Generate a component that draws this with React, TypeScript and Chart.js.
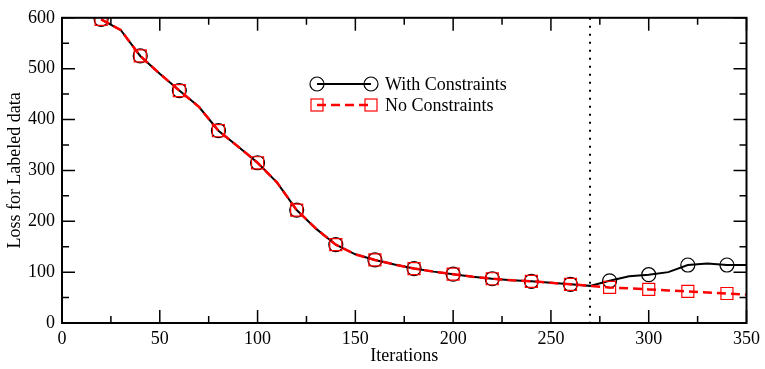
import React, { useEffect, useRef } from "react";
import { Chart, registerables } from "chart.js";

Chart.register(...registerables);

const iterations = [20, 30, 40, 50, 60, 70, 80, 90, 100, 110, 120, 130, 140, 150, 160, 170, 180, 190, 200, 210, 220, 230, 240, 250, 260, 270, 280, 290, 300, 310, 320, 330, 340, 350];
const withConstraints = [597, 576, 525, 490, 457, 425, 378, 347, 315, 276, 222, 185, 154, 135, 124, 115, 107, 101, 96, 91, 87, 84, 82, 79, 76, 73, 83, 92, 95, 100, 114, 117, 114, 114];
const noConstraints = [597, 576, 525, 490, 457, 425, 378, 347, 315, 276, 222, 185, 154, 135, 124, 115, 107, 101, 96, 91, 87, 84, 82, 79, 76, 73, 70, 68, 66, 64, 62, 60, 58, 56];
const markerIterations = [20, 40, 60, 80, 100, 120, 140, 160, 180, 200, 220, 240, 260, 280, 300, 320, 340];
const constraintLine = 270;
const xTicksMajor = [0, 50, 100, 150, 200, 250, 300, 350];
const xTicksMinor = [25, 75, 125, 175, 225, 275, 325];
const yTicksMajor = [0, 100, 200, 300, 400, 500, 600];
const yTicksMinor = [50, 150, 250, 350, 450, 550];
const legendLabels = ["With Constraints", "No Constraints"];

const FONT = "Liberation Serif";

const framePlugin = {
  id: "frame",
  beforeDatasetsDraw(chart: any) {
    const { ctx, chartArea: a, scales } = chart;
    const x = scales.x;
    ctx.save();
    ctx.strokeStyle = "#000";
    ctx.lineWidth = 2;
    ctx.setLineDash([2, 6]);
    const px = x.getPixelForValue(constraintLine);
    ctx.beginPath();
    ctx.moveTo(px, a.top);
    ctx.lineTo(px, a.bottom);
    ctx.stroke();
    ctx.restore();
  },
  afterDatasetsDraw(chart: any) {
    const { ctx, chartArea: a, scales } = chart;
    const x = scales.x;
    const y = scales.y;
    ctx.save();
    ctx.strokeStyle = "#000";
    ctx.lineWidth = 1.5;
    const tick = (vals: number[], len: number) => {
      vals.forEach((v) => {
        const px = x.getPixelForValue(v);
        ctx.beginPath();
        ctx.moveTo(px, a.bottom);
        ctx.lineTo(px, a.bottom - len);
        ctx.moveTo(px, a.top);
        ctx.lineTo(px, a.top + len);
        ctx.stroke();
      });
    };
    const ytick = (vals: number[], len: number) => {
      vals.forEach((v) => {
        const py = y.getPixelForValue(v);
        ctx.beginPath();
        ctx.moveTo(a.left, py);
        ctx.lineTo(a.left + len, py);
        ctx.moveTo(a.right, py);
        ctx.lineTo(a.right - len, py);
        ctx.stroke();
      });
    };
    tick(xTicksMajor, 13);
    tick(xTicksMinor, 7);
    ytick(yTicksMajor, 13);
    ytick(yTicksMinor, 7);
    ctx.lineWidth = 2;
    ctx.strokeRect(a.left, a.top, a.right - a.left, a.bottom - a.top);

    // legend
    const lx1 = 317, lx2 = 371, ly1 = 84, ly2 = 105;
    ctx.lineWidth = 2;
    ctx.strokeStyle = "#000";
    ctx.beginPath();
    ctx.moveTo(lx1, ly1);
    ctx.lineTo(lx2, ly1);
    ctx.stroke();
    ctx.lineWidth = 1.2;
    [lx1, lx2].forEach((cx) => {
      ctx.beginPath();
      ctx.arc(cx, ly1, 7, 0, Math.PI * 2);
      ctx.stroke();
    });
    ctx.strokeStyle = "#ff0000";
    ctx.lineWidth = 2.5;
    ctx.setLineDash([9, 5]);
    ctx.beginPath();
    ctx.moveTo(lx1, ly2);
    ctx.lineTo(lx2, ly2);
    ctx.stroke();
    ctx.setLineDash([]);
    ctx.lineWidth = 1.2;
    [lx1, lx2].forEach((cx) => {
      ctx.strokeRect(cx - 6, ly2 - 6, 12, 12);
    });
    ctx.fillStyle = "#000";
    ctx.font = `18px "${FONT}"`;
    ctx.textBaseline = "middle";
    ctx.textAlign = "left";
    ctx.fillText(legendLabels[0], 385, ly1 + 1);
    ctx.fillText(legendLabels[1], 385, ly2 + 1);
    ctx.restore();
  },
};

export default function App() {
  const ref = useRef<HTMLCanvasElement>(null);
  useEffect(() => {
    const isMarker = (ctx: any) => {
      const v = iterations[ctx.dataIndex];
      return markerIterations.includes(v);
    };
    const chart = new Chart(ref.current!, {
      type: "line",
      data: {
        datasets: [
          {
            label: legendLabels[1],
            data: iterations.map((it, i) => ({ x: it, y: noConstraints[i] })),
            borderColor: "#ff0000",
            borderWidth: 2.5,
            borderDash: [9, 5],
            backgroundColor: "transparent",
            pointStyle: "rect",
            pointRadius: (c: any) => (isMarker(c) ? 8.5 : 0),
            pointBorderWidth: 1.2,
            pointBorderColor: "#ff0000",
            pointBackgroundColor: "transparent",
            tension: 0,
            order: 0,
          },
          {
            label: legendLabels[0],
            data: iterations.map((it, i) => ({ x: it, y: withConstraints[i] })),
            borderColor: "#000",
            borderWidth: 2,
            backgroundColor: "transparent",
            pointStyle: "circle",
            pointRadius: (c: any) => (isMarker(c) ? 7 : 0),
            pointBorderWidth: 1.2,
            pointBorderColor: "#000",
            pointBackgroundColor: "transparent",
            tension: 0,
            order: 1,
          },
        ],
      },
      options: {
        animation: false,
        responsive: true,
        maintainAspectRatio: false,
        layout: { padding: { top: 15, right: 16, left: 0, bottom: 0 } },
        plugins: { legend: { display: false }, tooltip: { enabled: false } },
        scales: {
          x: {
            type: "linear",
            min: 0,
            max: 350,
            grid: { display: false, drawTicks: false, tickLength: 0 },
            border: { display: false },
            ticks: {
              stepSize: 50,
              padding: 5,
              color: "#000",
              font: { family: FONT, size: 18 },
              maxRotation: 0,
            },
            title: {
              display: true,
              text: "Iterations",
              color: "#000",
              font: { family: FONT, size: 18 },
              padding: { top: 0, bottom: 2 },
            },
            afterFit: (s: any) => {
              s.height = 46;
            },
          },
          y: {
            type: "linear",
            min: 0,
            max: 600,
            grid: { display: false, drawTicks: false, tickLength: 0 },
            border: { display: false },
            ticks: {
              stepSize: 100,
              padding: 7,
              color: "#000",
              font: { family: FONT, size: 18 },
            },
            title: {
              display: true,
              text: "Loss for Labeled data",
              color: "#000",
              font: { family: FONT, size: 18 },
              padding: { top: 4, bottom: 0 },
            },
            afterFit: (s: any) => {
              s.width = 62;
            },
          },
        },
      },
      plugins: [framePlugin],
    });
    return () => chart.destroy();
  }, []);
  return (
    <div style={{ position: "absolute", left: 0, top: 0, width: 765, height: 369, background: "#fff" }}>
      <canvas ref={ref} />
    </div>
  );
}
